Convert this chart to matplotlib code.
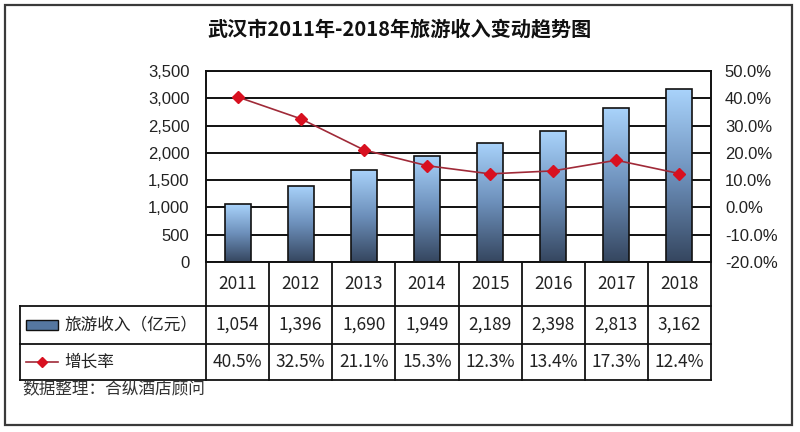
import numpy as np
import matplotlib
matplotlib.use("Agg")
import matplotlib.pyplot as plt
from matplotlib.colors import LinearSegmentedColormap
from matplotlib.patches import Rectangle
from matplotlib.lines import Line2D
from matplotlib.transforms import blended_transform_factory

plt.rcParams['font.family'] = ['Noto Sans CJK SC', 'DejaVu Sans']

# data
years = ['2011', '2012', '2013', '2014', '2015', '2016', '2017', '2018']
income = [1054, 1396, 1690, 1949, 2189, 2398, 2813, 3162]
growth = [40.5, 32.5, 21.1, 15.3, 12.3, 13.4, 17.3, 12.4]
income_labels = ['1,054', '1,396', '1,690', '1,949', '2,189', '2,398', '2,813', '3,162']
growth_labels = ['40.5%', '32.5%', '21.1%', '15.3%', '12.3%', '13.4%', '17.3%', '12.4%']

W, H = 800, 432
fig = plt.figure(figsize=(W / 100, H / 100), dpi=100)

# outer frame
fig.patches.append(Rectangle((5 / W, 1 - 425 / H), 787 / W, 420 / H,
                             transform=fig.transFigure, fill=False,
                             edgecolor='#3a3a3a', linewidth=1.6))

fig.text(0.5, 1 - 29 / H, '武汉市2011年-2018年旅游收入变动趋势图',
         ha='center', va='center', fontsize=14.5, fontweight='bold', color='#111111')

ax = fig.add_axes([206 / W, 1 - 262 / H, 505 / W, 191 / H])
x = np.arange(len(years))

cmap = LinearSegmentedColormap.from_list('bar', ['#35465f', '#6d90bb', '#a9d3fb'])
grad = np.linspace(0, 1, 256).reshape(-1, 1)
bw = 0.41
for xi, v in zip(x, income):
    bar = Rectangle((xi - bw / 2, 0), bw, v, facecolor='none',
                    edgecolor='#111111', linewidth=1.2, zorder=3)
    ax.add_patch(bar)
    im = ax.imshow(grad, extent=[xi - bw / 2, xi + bw / 2, 0, v], origin='lower',
                   cmap=cmap, aspect='auto', zorder=2)
    im.set_clip_path(bar)

ax.set_xlim(-0.5, 7.5)
ax.set_ylim(0, 3500)
ax.set_yticks(np.arange(0, 3501, 500))
ax.set_yticklabels([f'{v:,}' for v in range(0, 3501, 500)],
                   fontsize=12, family='Liberation Sans', color='#222222')
ax.set_xticks([])
ax.yaxis.grid(True, color='#111111', linewidth=1.4)
ax.set_axisbelow(True)
ax.tick_params(axis='y', length=0, pad=12)
for s in ax.spines.values():
    s.set_color('#111111')
    s.set_linewidth(1.4)

ax2 = ax.twinx()
ax2.plot(x, growth, color='#a02a38', linewidth=1.2, marker='D', markersize=6.5,
         markerfacecolor='#d81020', markeredgecolor='#d81020', zorder=5)
ax2.set_ylim(-20, 50)
ax2.set_yticks(np.arange(-20, 51, 10))
ax2.set_yticklabels([f'{v:.1f}%' for v in range(-20, 51, 10)],
                    fontsize=12, family='Liberation Sans', color='#222222')
ax2.tick_params(axis='y', length=0, pad=10)
for s in ax2.spines.values():
    s.set_visible(False)

# data table below the plot
tr = blended_transform_factory(ax.transData, ax.transAxes)
r0, r1, r2, r3 = 0, -44 / 191, -82 / 191, -118 / 191
xl = -0.5 - 186 / 63.1
lkw = dict(color='#111111', linewidth=1.3, transform=tr, clip_on=False)
for yy in (r1, r2, r3):
    ax.add_line(Line2D([xl, 7.5], [yy, yy], **lkw))
for k in range(9):
    ax.add_line(Line2D([k - 0.5, k - 0.5], [r0, r3], **lkw))
ax.add_line(Line2D([xl, xl], [r1, r3], **lkw))

tkw = dict(ha='center', va='center', fontsize=12.5, color='#222222', transform=tr)
for xi in x:
    ax.text(xi, (r0 + r1) / 2, years[xi], **tkw)
    ax.text(xi, (r1 + r2) / 2, income_labels[xi], **tkw)
    ax.text(xi, (r2 + r3) / 2, growth_labels[xi], **tkw)

# legend keys
key = Rectangle((xl + 0.09, (r1 + r2) / 2 - 0.025), 0.52, 0.05, transform=tr,
                clip_on=False, facecolor='#5577a0', edgecolor='#111111', linewidth=1.0)
ax.add_patch(key)
ax.add_line(Line2D([xl + 0.09, xl + 0.61], [(r2 + r3) / 2] * 2, transform=tr,
                   clip_on=False, color='#a02a38', linewidth=1.2))
ax.add_line(Line2D([xl + 0.35], [(r2 + r3) / 2], transform=tr, clip_on=False,
                   marker='D', markersize=5, color='#d81020', linestyle='none'))
ax.text(xl + 0.7, (r1 + r2) / 2, '旅游收入（亿元）', ha='left', va='center',
        fontsize=12, color='#222222', transform=tr)
ax.text(xl + 0.7, (r2 + r3) / 2, '增长率', ha='left', va='center',
        fontsize=12, color='#222222', transform=tr)

fig.text(22 / W, 1 - 389 / H, '数据整理：合纵酒店顾问', ha='left', va='center',
         fontsize=12, color='#333333')

fig.savefig('out.png', dpi=100)
